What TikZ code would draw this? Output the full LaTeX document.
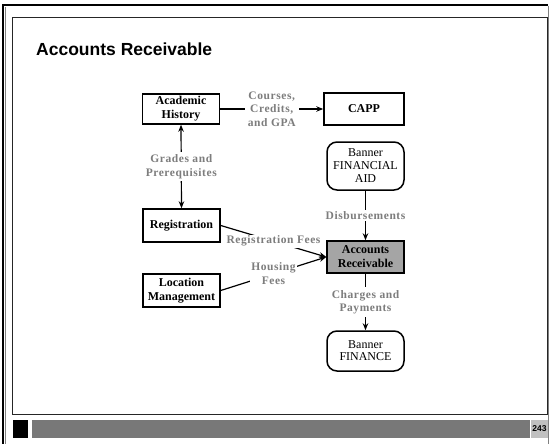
\documentclass[tikz,border=0pt]{standalone}
\usepackage{fontspec}
\setmainfont{Liberation Serif}
\newfontfamily\titlefont{Liberation Sans}
\newfontfamily\lblfont[LetterSpace=5]{Liberation Serif}
\usetikzlibrary{arrows.meta}
\definecolor{lblgray}{RGB}{125,125,125}
\definecolor{argray}{RGB}{165,165,165}
\definecolor{bargray}{RGB}{120,120,120}
\definecolor{numgray}{RGB}{192,192,192}
\tikzset{
  box/.style={draw=black, line width=1.5pt, minimum width=77pt, align=center, inner sep=1pt,
    font=\fontsize{12}{14}\selectfont\bfseries},
  rbox/.style={box, rounded corners=10pt, font=\fontsize{12}{13}\selectfont},
  lbl/.style={fill=white, text=lblgray, align=center, inner sep=2pt,
    font=\lblfont\fontsize{11.5}{13.5}\selectfont\bfseries},
  conn/.style={line width=1.2pt, draw=black},
  tip/.style={-{Stealth[length=7pt,width=5.5pt]}},
  tips/.style={{Stealth[length=7pt,width=5.5pt]}-{Stealth[length=7pt,width=5.5pt]}}
}
\begin{document}
\begin{tikzpicture}[x=1pt,y=-1pt]
\useasboundingbox (0,0) rectangle (552,444);
\fill[white] (0,0) rectangle (552,444);
% outer frame
\draw[black, line width=2.2pt] (3,450) -- (3,5) -- (548,5);
\draw[gray, line width=1pt] (548,6) -- (548,450);
\draw[gray, line width=0.8pt] (5.5,7) -- (5.5,450);
% inner frame
\draw[black!85, line width=1pt] (12,18) rectangle (547,414);
% title
\node[anchor=base west, inner sep=0pt, font=\titlefont\fontsize{17.5}{20}\selectfont\bfseries] (title) at (36,56) {Accounts Receivable};
% footer bar
\fill[black] (13,420) rectangle (28,438);
\fill[bargray] (32,420) rectangle (530,438);
\fill[numgray] (531,420) rectangle (548,438);
\node[inner sep=0pt, font=\titlefont\fontsize{8.5}{10}\selectfont\bfseries] (pagenum) at (539.5,429) {243};
% nodes
\node[box, minimum height=30pt] (ah) at (181,109) {Academic\\History};
\node[box, minimum width=80pt, minimum height=32pt] (capp) at (364,109) {CAPP};
\node[rbox, minimum height=48pt] (fa) at (365.5,166) {Banner\\FINANCIAL\\AID};
\node[box, minimum height=33pt] (reg) at (181.5,225.5) {Registration};
\node[box, minimum height=33pt] (lm) at (181.5,290.5) {Location\\Management};
\node[box, fill=argray, minimum height=32pt] (ar) at (365.5,257) {Accounts\\Receivable};
\node[rbox, minimum height=40pt, font=\fontsize{12}{12}\selectfont] (fin) at (365.5,351) {Banner\\FINANCE};
% connectors
\draw[conn, tip] (ah.east) -- node[lbl, inner sep=3pt] (l1) {Courses,\\Credits,\\and GPA} (capp.west);
\draw[conn, tips] (ah.south) -- node[lbl, inner sep=3pt] (l2) {Grades and\\Prerequisites} (reg.north);
\draw[conn, tip] (fa.south) -- node[lbl, inner sep=1pt] (l3) {Disbursements} (ar.north);
\draw[conn, tip] (ar.south) -- node[lbl, inner sep=3pt] (l4) {Charges and\\Payments} (fin.north);
\draw[conn, tip] (reg.east) -- node[lbl, inner sep=1pt] (l5) {Registration Fees} (ar.west);
\draw[conn, tip] (lm.east) -- node[lbl, inner sep=1pt] (l6) {Housing\\Fees} (ar.west);
\end{tikzpicture}
\end{document}
